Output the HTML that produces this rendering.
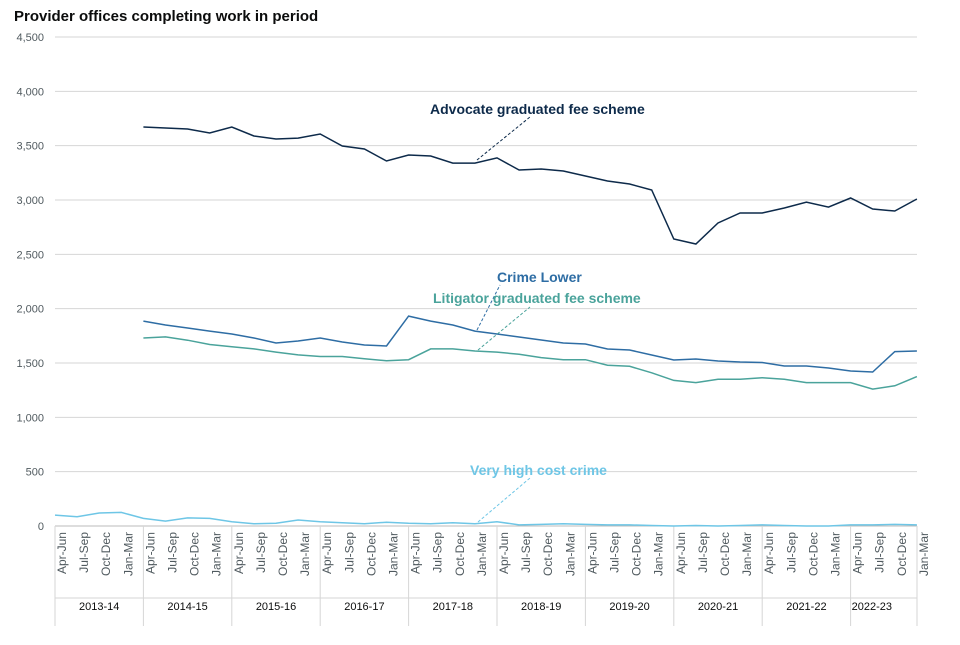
<!DOCTYPE html>
<html><head><meta charset="utf-8"><style>
body{margin:0;background:#fff;}
svg{font-family:"Liberation Sans",sans-serif;}
</style></head><body>
<svg id="chart" width="960" height="640">
<text x="14" y="21" font-size="15" font-weight="bold" fill="#0b0c0c">Provider offices completing work in period</text>
<g id="grid"></g><g id="xaxis"></g><g id="series"></g><g id="ann"></g>
</svg>
<script>
const years=["2013-14","2014-15","2015-16","2016-17","2017-18","2018-19","2019-20","2020-21","2021-22","2022-23"];
const quarters=["Apr-Jun","Jul-Sep","Oct-Dec","Jan-Mar"];
const yTicks=[0,500,1000,1500,2000,2500,3000,3500,4000,4500];
const advocate=[null,null,null,null,3672,3663,3653,3617,3672,3589,3561,3570,3607,3497,3469,3359,3414,3405,3340,3340,3387,3276,3285,3267,3221,3175,3147,3092,2641,2595,2788,2880,2880,2926,2981,2935,3018,2917,2899,3009];
const crimeLower=[null,null,null,null,1886,1850,1822,1794,1767,1730,1684,1702,1730,1693,1666,1656,1932,1886,1850,1794,1767,1739,1712,1684,1675,1629,1620,1574,1528,1537,1518,1509,1505,1472,1472,1454,1426,1417,1605,1610];
const litigator=[null,null,null,null,1730,1740,1710,1670,1650,1630,1600,1575,1560,1560,1540,1520,1530,1630,1630,1610,1600,1580,1550,1530,1530,1480,1470,1410,1340,1320,1350,1350,1365,1350,1320,1320,1320,1260,1290,1375];
const vhcc=[100,85,120,125,70,45,75,70,40,20,25,55,40,30,20,35,25,20,30,20,40,10,15,20,15,10,10,5,0,5,0,5,10,5,0,0,10,10,15,10];
const NS="http://www.w3.org/2000/svg";
const X0=55,DX=22.1,Y0=526,YS=489/4500;
const x=i=>X0+DX*i, y=v=>Y0-v*YS;
function mk(t,a,p){const e=document.createElementNS(NS,t);for(const k in a)e.setAttribute(k,a[k]);p.appendChild(e);return e;}
const grid=document.getElementById('grid');
yTicks.forEach(v=>{
  const l=mk('line',{x1:55,x2:917,y1:y(v),y2:y(v),stroke:v===0?'#bbb':'#d6d6d6','stroke-width':1},grid);
  
  
  const t=mk('text',{x:44,y:y(v)+4,'text-anchor':'end','font-size':11,fill:'#505a5f'},grid);
  t.textContent=v.toLocaleString('en-US');
  
  
});
const xa=document.getElementById('xaxis');
const n=years.length*4;
for(let k=0;k<=years.length;k++){
  const xx=Math.min(X0+88.4*k,917);
  const l=mk('line',{x1:xx,x2:xx,y1:526,y2:626,stroke:'#d6d6d6'},xa);
  
  
}
const hb=mk('line',{x1:55,x2:917,y1:598,y2:598,stroke:'#d6d6d6'},xa);


for(let i=0;i<n;i++){
  const t=mk('text',{transform:`translate(${x(i)+11},532) rotate(-90)`,'text-anchor':'end','font-size':12,fill:'#505a5f'},xa);
  t.textContent=quarters[i%4];
  
  
}
years.forEach((yr,k)=>{
  const a=X0+88.4*k,b=Math.min(a+88.4,917);
  const t=mk('text',{x:(a+b)/2-(k===9?12:0),y:610,'text-anchor':'middle','font-size':11,fill:'#0b0c0c'},xa);
  t.textContent=yr;
  
  
});
const sg=document.getElementById('series');
function line(data,color,name){
  let d='';data.forEach((v,i)=>{if(v==null)return;d+=(d?'L':'M')+x(i).toFixed(1)+','+y(v).toFixed(1);});
  const p=mk('path',{d:d,fill:'none',stroke:color,'stroke-width':1.5},sg);
  
  
}
line(vhcc,'#6ec6e6','series-very-high-cost-crime');
line(litigator,'#4aa39b','series-litigator');
line(crimeLower,'#2e6da4','series-crime-lower');
line(advocate,'#0d2a4a','series-advocate');
const ann=document.getElementById('ann');
function label(txt,tx,ty,lx1,ly1,lx2,ly2,color,name){
  const l=mk('line',{x1:lx1,y1:ly1,x2:lx2,y2:ly2,stroke:color,'stroke-dasharray':'3,2'},ann);
  
  
  const t=mk('text',{x:tx,y:ty,'font-size':14,'font-weight':'bold',fill:color},ann);
  t.textContent=txt;
  
  
}
label('Advocate graduated fee scheme',430,114,477,160,530,117,'#0d2a4a','advocate');
label('Crime Lower',497,282,477,330,500,285,'#2e6da4','crime-lower');
label('Litigator graduated fee scheme',433,303,478,350,530,307,'#4aa39b','litigator');
label('Very high cost crime',470,475,478,522,530,478,'#6ec6e6','vhcc');
</script>
</body></html>
